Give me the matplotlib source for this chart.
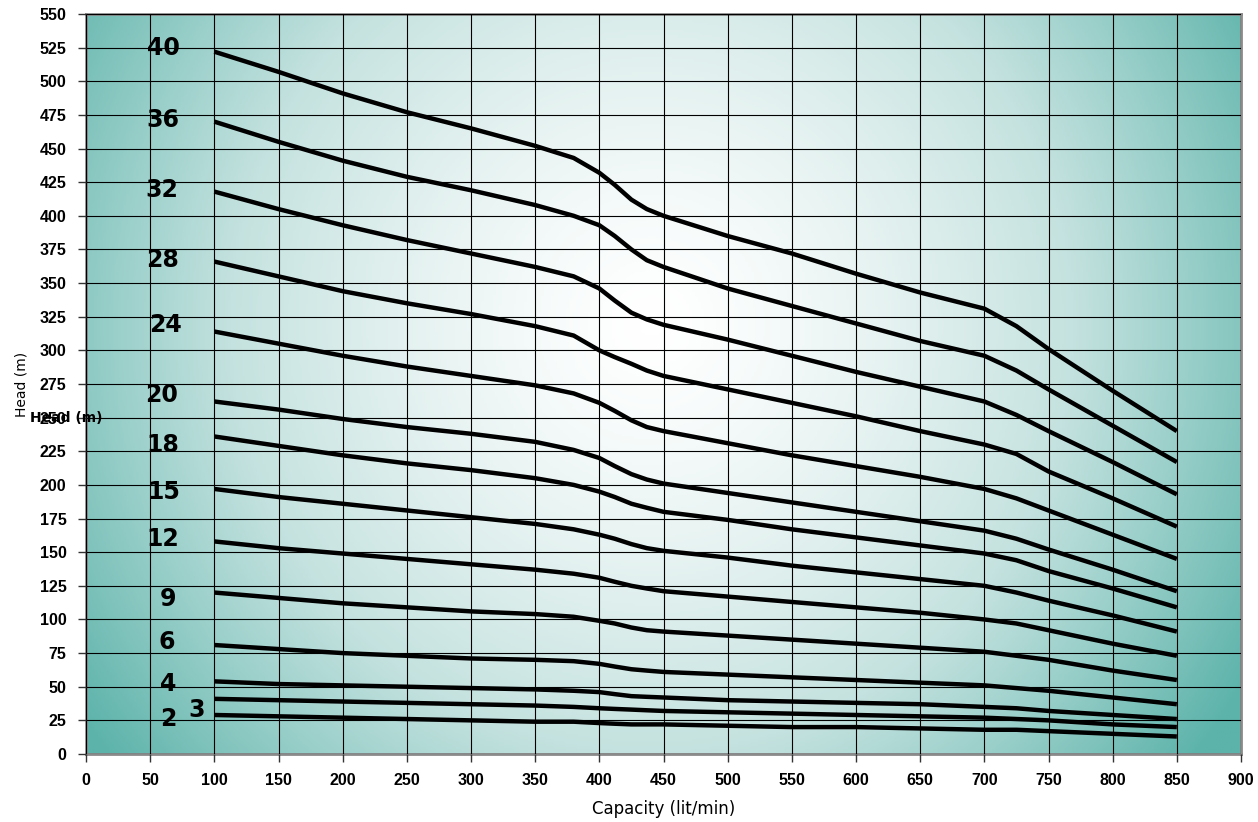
import matplotlib.pyplot as plt
from matplotlib.colors import LinearSegmentedColormap
from matplotlib import font_manager
import numpy as np

# Pump curves: stage count -> (capacity, head) points.
stages = [40, 36, 32, 28, 24, 20, 18, 15, 12, 9, 6, 4, 3, 2]

q_main = [100, 150, 200, 250, 300, 350, 380, 400, 412, 425, 437, 450,
          500, 550, 600, 650, 700, 725, 750, 800, 850]

head_40 = [522, 507, 491, 477, 465, 452, 443, 432, 423, 412, 405, 400, 385, 372, 357, 343, 331, 318, 301, 270, 240]
head_36 = [470, 455, 441, 429, 419, 408, 400, 393, 385, 375, 367, 362, 346, 333, 320, 307, 296, 285, 271, 244, 217]
head_32 = [418, 405, 393, 382, 372, 362, 355, 346, 337, 328, 323, 319, 308, 296, 284, 273, 262, 252, 240, 217, 193]
head_28 = [366, 355, 344, 335, 327, 318, 311, 300, 295, 290, 285, 281, 271, 261, 251, 240, 230, 223, 210, 190, 169]
head_24 = [314, 305, 296, 288, 281, 274, 268, 261, 255, 248, 243, 240, 231, 222, 214, 206, 197, 190, 181, 163, 145]
head_20 = [262, 256, 249, 243, 238, 232, 226, 220, 214, 208, 204, 201, 194, 187, 180, 173, 166, 160, 152, 137, 121]
head_18 = [236, 229, 222, 216, 211, 205, 200, 195, 191, 186, 183, 180, 174, 167, 161, 155, 149, 144, 136, 123, 109]
head_15 = [197, 191, 186, 181, 176, 171, 167, 163, 160, 156, 153, 151, 146, 140, 135, 130, 125, 120, 114, 103, 91]
head_12 = [158, 153, 149, 145, 141, 137, 134, 131, 128, 125, 123, 121, 117, 113, 109, 105, 100, 97, 92, 82, 73]
head_9 = [120, 116, 112, 109, 106, 104, 102, 99, 97, 94, 92, 91, 88, 85, 82, 79, 76, 73, 70, 62, 55]
head_6 = [81, 78, 75, 73, 71, 70, 69, 67, 65, 63, 62, 61, 59, 57, 55, 53, 51, 49, 47, 42, 37]
head_4 = [54, 52, 51, 50, 49, 48, 47, 46, 44.5, 43, 42.5, 42, 40, 39, 38, 37, 35, 34, 32, 29, 26]
head_3 = [41, 40, 39, 38, 37, 36, 35, 34, 33.5, 33, 32.5, 32, 31, 30, 29, 28, 27, 26, 25, 22, 20]
head_2 = [29, 28, 27, 26, 25, 24, 24, 23, 22.5, 22, 22, 22, 21, 20, 20, 19, 18, 18, 17, 15, 13]

heads = [head_40, head_36, head_32, head_28, head_24, head_20, head_18,
         head_15, head_12, head_9, head_6, head_4, head_3, head_2]

# Curve label positions (capacity, head).
label_x = [60, 60, 59, 60, 62, 59, 60, 61, 60, 64, 63, 64, 86, 64]
label_y = [525, 471, 419, 367, 319, 267, 230, 195, 160, 115, 83, 52, 33, 26]

x_ticks = np.arange(0, 901, 50)
y_ticks = np.arange(0, 551, 25)

# Pick a narrow face for the condensed labels, if one is installed.
names = {f.name for f in font_manager.fontManager.ttflist}
narrow = 'Liberation Sans Narrow' if 'Liberation Sans Narrow' in names else 'DejaVu Sans'

plt.rcParams['font.family'] = ['Liberation Sans', 'DejaVu Sans']

fig = plt.figure(figsize=(12.58, 8.22), dpi=100)
ax = fig.add_axes([86 / 1258, 68 / 822, 1155 / 1258, 740 / 822])

# Radial background gradient in axes coordinates.
gx, gy = np.meshgrid(np.linspace(0, 1, 400), np.linspace(0, 1, 300))
d = np.sqrt(((gx - 0.49) / 0.60) ** 2 + ((gy - 0.58) / 0.95) ** 2)
d = np.clip(d, 0, 1) ** 1.4
cmap = LinearSegmentedColormap.from_list('bg', ['#ffffff', '#c4e2df', '#5cb3aa'])
ax.imshow(d, cmap=cmap, origin='lower', extent=[0, 1, 0, 1],
          transform=ax.transAxes, aspect='auto', zorder=0, vmin=0, vmax=1)

for h in heads:
    ax.plot(q_main, h, color='black', lw=3.2, solid_capstyle='butt',
            solid_joinstyle='round', zorder=3)

for s, lx, ly in zip(stages, label_x, label_y):
    ax.text(lx, ly, str(s), ha='center', va='center', fontsize=17,
            fontweight='bold', family=narrow, zorder=4)

ax.set_xlim(0, 900)
ax.set_ylim(0, 550)
ax.set_xticks(x_ticks)
ax.set_yticks(y_ticks)
ax.grid(True, color='black', lw=0.8, zorder=1)
ax.set_axisbelow(False)
for line in ax.get_xgridlines() + ax.get_ygridlines():
    line.set_zorder(1)
ax.tick_params(length=6, width=1, color='#333333', labelsize=11.5, pad=8)
for lbl in ax.get_xticklabels() + ax.get_yticklabels():
    lbl.set_fontweight('bold')
for sp in ax.spines.values():
    sp.set_color('#8a8a8a')
    sp.set_linewidth(2)

ax.set_xlabel('Capacity (lit/min)', fontsize=12, family=narrow, labelpad=8)
ax.set_ylabel('Head (m)', fontsize=10, family=narrow, labelpad=8)
fig.text(30 / 1258, 1 - 418 / 822, 'Head (m)', fontsize=10, fontweight='bold',
         family=narrow, va='center', ha='left')

fig.savefig('out.png', dpi=100)
